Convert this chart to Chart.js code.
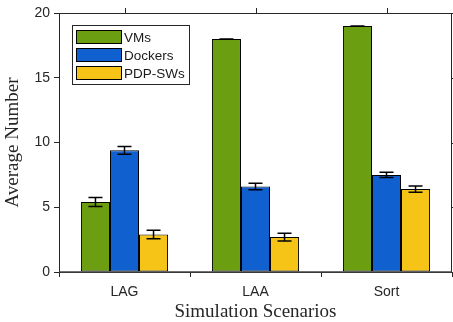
<!DOCTYPE html>
<html>
<head>
<meta charset="utf-8">
<script src="https://cdn.jsdelivr.net/npm/chart.js@4/dist/chart.umd.min.js"></script>
<style>
  html, body { margin: 0; padding: 0; background: #fff; }
  #wrap { position: relative; width: 453px; height: 322px; }
</style>
</head>
<body>
<div id="wrap"><canvas id="c" width="453" height="322"></canvas></div>
<script>
const categories = ['LAG', 'LAA', 'Sort'];
const seriesNames = ['VMs', 'Dockers', 'PDP-SWs'];
const vms = [5.4, 18.0, 19.0];
const dockers = [9.4, 6.6, 7.5];
const pdpsws = [2.9, 2.7, 6.4];
const vmsErr = [0.35, 0, 0];
const dockersErr = [0.3, 0.25, 0.2];
const pdpswsErr = [0.33, 0.3, 0.25];
const yTicks = [0, 5, 10, 15, 20];

const colors = ['#6c9e12', '#1060cf', '#f5c417'];
const errs = [vmsErr, dockersErr, pdpswsErr];
const axisColor = '#262626';

const errorBarPlugin = {
  id: 'errorBars',
  afterDatasetsDraw(chart) {
    const ctx = chart.ctx;
    const y = chart.scales.y;
    ctx.save();
    ctx.strokeStyle = '#000';
    ctx.lineWidth = 1.5;
    chart.data.datasets.forEach((ds, di) => {
      const meta = chart.getDatasetMeta(di);
      meta.data.forEach((bar, i) => {
        const v = ds.data[i], e = errs[di][i];
        const yt = y.getPixelForValue(v + e), yb = y.getPixelForValue(v - e);
        const x = bar.x, cw = 7;
        ctx.beginPath();
        ctx.moveTo(x, yt); ctx.lineTo(x, yb);
        ctx.moveTo(x - cw, yt); ctx.lineTo(x + cw, yt);
        ctx.moveTo(x - cw, yb); ctx.lineTo(x + cw, yb);
        ctx.stroke();
      });
    });
    ctx.restore();
  }
};

const framePlugin = {
  id: 'frame',
  afterDraw(chart) {
    const ctx = chart.ctx;
    const a = chart.chartArea;
    const x = chart.scales.x, y = chart.scales.y;
    ctx.save();
    ctx.strokeStyle = axisColor;
    ctx.lineWidth = 1;
    ctx.beginPath();
    ctx.moveTo(a.left, a.top + 0.5); ctx.lineTo(a.right, a.top + 0.5);
    ctx.moveTo(a.right - 0.5, a.top); ctx.lineTo(a.right - 0.5, a.bottom);
    categories.forEach((c, i) => {
      const px = Math.round(x.getPixelForValue(i)) + 0.5;
      ctx.moveTo(px, a.top); ctx.lineTo(px, a.top - 5);
    });
    yTicks.forEach(t => {
      const py = Math.round(y.getPixelForValue(t)) + 0.5;
      ctx.moveTo(a.right, py); ctx.lineTo(a.right + 5, py);
    });
    ctx.stroke();
    // bottom axis line on top of bars
    ctx.lineWidth = 1.5;
    ctx.strokeStyle = '#404040';
    ctx.beginPath();
    ctx.moveTo(a.left, a.bottom); ctx.lineTo(a.right, a.bottom);
    ctx.stroke();

    // legend
    const lx = 72, ly = 25, lw = 117, lh = 59;
    ctx.fillStyle = '#fff';
    ctx.fillRect(lx, ly, lw, lh);
    ctx.strokeStyle = axisColor;
    ctx.lineWidth = 1;
    ctx.strokeRect(lx + 0.5, ly + 0.5, lw, lh);
    ctx.font = '13.5px "Liberation Sans", Arial, sans-serif';
    ctx.textBaseline = 'middle';
    ctx.textAlign = 'left';
    seriesNames.forEach((n, i) => {
      const cy = 37 + i * 18;
      ctx.fillStyle = colors[i];
      ctx.fillRect(76.5, cy - 6.5, 45, 13);
      ctx.strokeStyle = '#000';
      ctx.strokeRect(76.5, cy - 6.5, 45, 13);
      ctx.fillStyle = '#1a1a1a';
      ctx.fillText(n, 124, cy + 1);
    });
    ctx.restore();
  }
};

const seriesData = [vms, dockers, pdpsws];
new Chart(document.getElementById('c'), {
  type: 'bar',
  data: {
    labels: categories,
    datasets: seriesNames.map((n, i) => ({
      label: n,
      data: seriesData[i],
      backgroundColor: colors[i],
      borderColor: '#000',
      borderWidth: 1,
      borderSkipped: false,
      barPercentage: 1,
      categoryPercentage: 0.665
    }))
  },
  options: {
    responsive: false,
    animation: false,
    events: [],
    layout: { padding: { top: 13, right: 1, left: 0, bottom: 0 } },
    plugins: { legend: { display: false }, tooltip: { enabled: false } },
    scales: {
      x: {
        grid: { display: true, drawOnChartArea: false, drawTicks: true, tickLength: 5, color: axisColor },
        border: { display: true, color: axisColor, width: 1 },
        ticks: { color: '#262626', padding: 7, font: { family: '"Liberation Sans", Arial, sans-serif', size: 14 } },
        title: { display: true, text: 'Simulation Scenarios', color: '#262626', padding: { top: 0, bottom: 0 },
                 font: { family: '"Liberation Serif", "Times New Roman", serif', size: 19, lineHeight: 1.0 } },
        afterFit(s) { s.height = 50; }
      },
      y: {
        min: 0, max: 20,
        afterBuildTicks(s) { s.ticks = yTicks.map(v => ({ value: v })); },
        grid: { display: true, drawOnChartArea: false, drawTicks: true, tickLength: 5, color: axisColor },
        border: { display: true, color: axisColor, width: 1 },
        ticks: { color: '#262626', padding: 4, font: { family: '"Liberation Sans", Arial, sans-serif', size: 14 } },
        title: { display: true, text: 'Average Number', color: '#262626', padding: { top: 4, bottom: 0 },
                 font: { family: '"Liberation Serif", "Times New Roman", serif', size: 19, lineHeight: 1.0 } },
        afterFit(s) { s.width = 59; }
      }
    }
  },
  plugins: [errorBarPlugin, framePlugin]
});
</script>
</body>
</html>
